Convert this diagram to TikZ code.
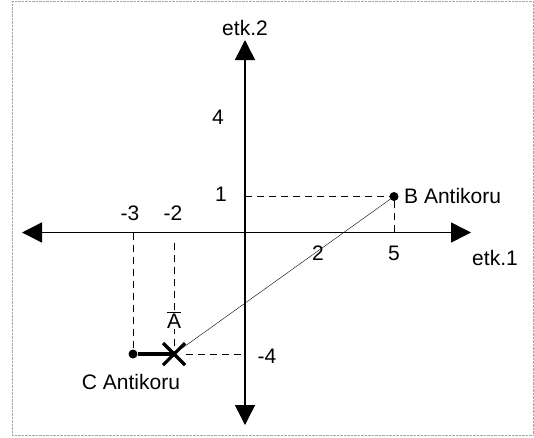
\documentclass[tikz,border=0pt]{standalone}
\usepackage{fontspec}
\setmainfont{Liberation Sans}
\usetikzlibrary{arrows.meta, positioning, calc}

\begin{document}
\begin{tikzpicture}[
  x=1pt, y=-1pt,
  axisline/.style={{Triangle[length=20pt,width=20pt]}-{Triangle[length=20pt,width=20pt]},
    line width=1.5pt},
  guide/.style={dash pattern=on 7pt off 5pt, line width=0.9pt},
  lbl/.style={font=\fontsize{21}{24}\selectfont, inner sep=1pt},
  ptdot/.style={circle, fill=black, inner sep=0pt, minimum size=9pt},
  crossline/.style={line width=3.2pt},
]
\useasboundingbox (0,0) rectangle (534,437);
\draw[black!35, densely dotted] (12,1) rectangle (533,435);
\coordinate (o)  at (245,232.5);
\coordinate (xl) at (22,232.5);
\coordinate (xr) at (471,232.5);
\coordinate (yt) at (245,40);
\coordinate (yb) at (245,425);
\draw[axisline] (xl) -- (xr);
\draw[axisline] (yb) -- (yt);
\node[ptdot] (b) at (394,196.5) {};
\node[ptdot] (c) at (133,354) {};
\coordinate (a) at (174,354);
\draw[guide] (o |- b) -- (b);
\draw[guide] (b) -- (b |- o);
\draw[guide] (c |- o) -- (c);
\draw[guide] ($(a |- o)+(0,10)$) -- (a);
\draw[guide] ($(a)+(12,0)$) -- (o |- a);
\draw[thin] (a) -- (b);
\draw[crossline] (c) -- (a);
\draw[crossline] ($(a)+(-11,-11)$) -- ($(a)+(11,11)$);
\draw[crossline] ($(a)+(-11,11)$) -- ($(a)+(11,-11)$);
\node[lbl, fill=white] (abar) at (174,320) {$\overline{\hbox{A}}$};
\node[lbl] (ylab) at (245,28) {etk.2};
\node[lbl] (xlab) at (495,258) {etk.1};
\node[lbl] (y4)  at (218,117) {4};
\node[lbl] (y1)  at (221,194) {1};
\node[lbl] (ym4) at (267,356) {-4};
\node[lbl] (xm3) at (130,213) {-3};
\node[lbl] (xm2) at (173,213) {-2};
\node[lbl] (x2)  at (318,253) {2};
\node[lbl] (x5)  at (394,253) {5};
\node[lbl, anchor=west] (blab) at (403,196) {B Antikoru};
\node[lbl] (clab) at (131,382) {C Antikoru};
\end{tikzpicture}
\end{document}
